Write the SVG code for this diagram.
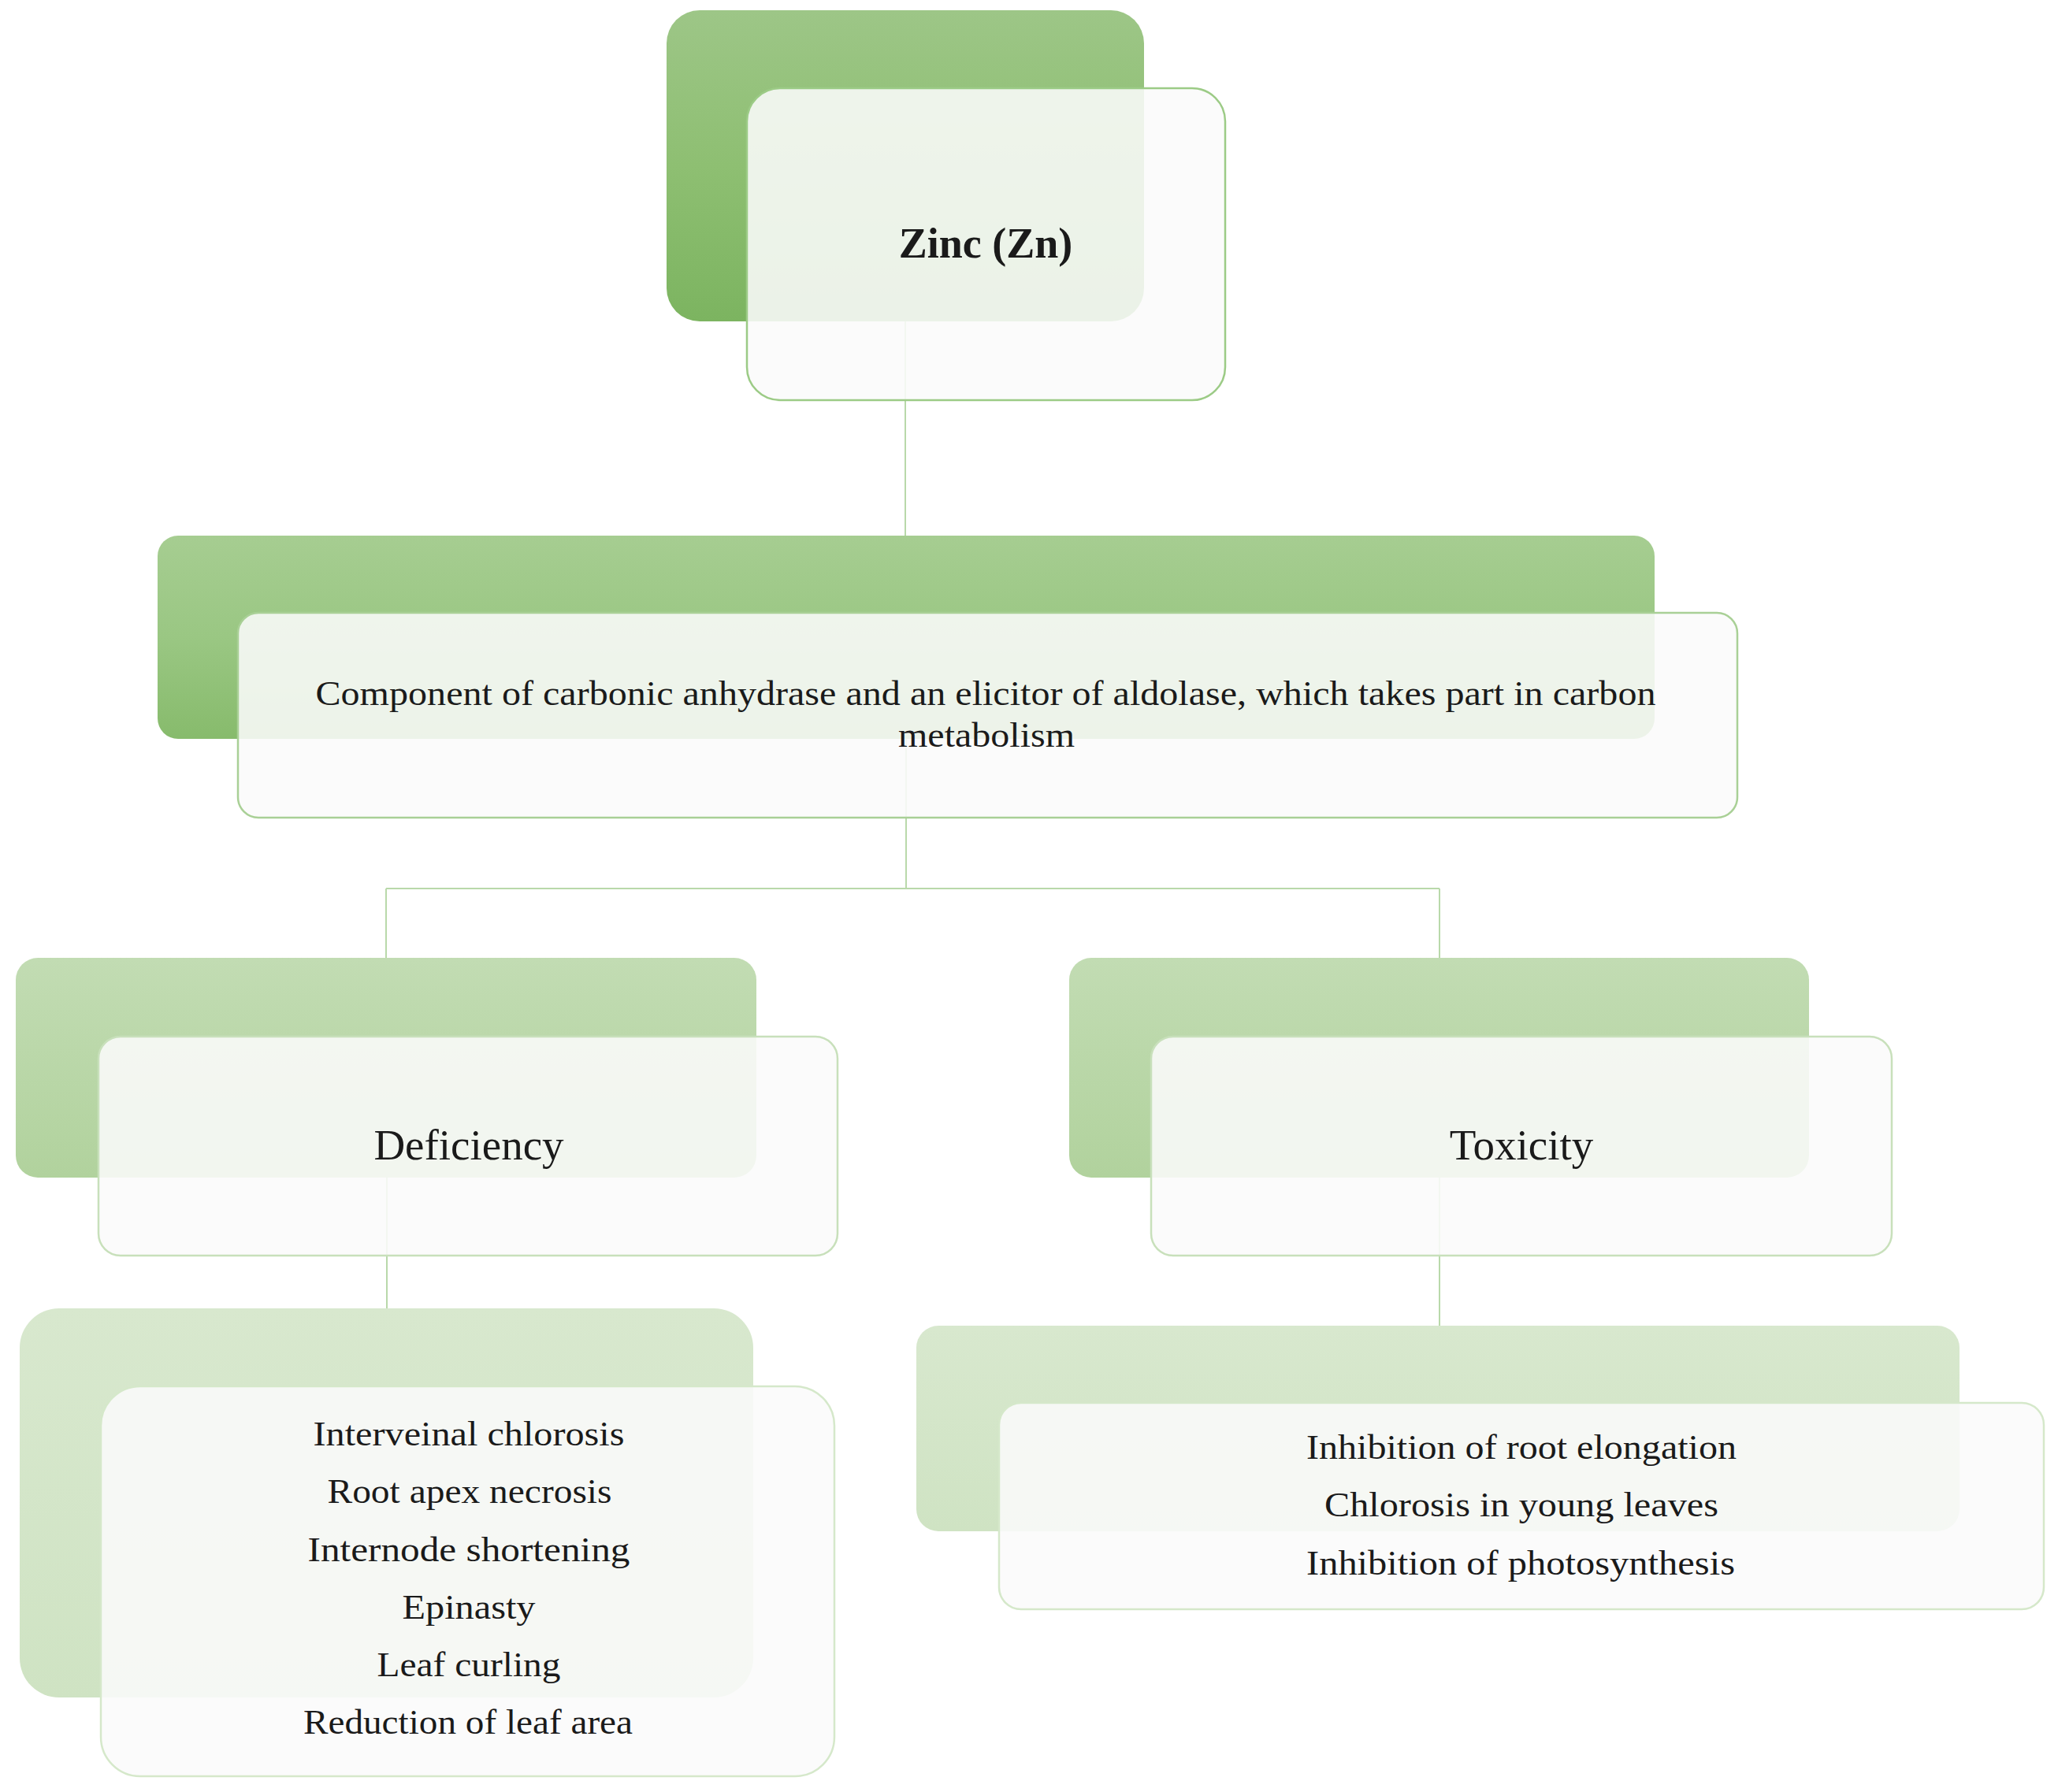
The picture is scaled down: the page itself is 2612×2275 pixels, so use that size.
<svg xmlns="http://www.w3.org/2000/svg" width="2612" height="2275" viewBox="0 0 2612 2275">
  <defs>
    <linearGradient id="g1" x1="0" y1="0" x2="0" y2="1">
      <stop offset="0" stop-color="#9dc687"/>
      <stop offset="0.5" stop-color="#8ebf72"/>
      <stop offset="1" stop-color="#7cb460"/>
    </linearGradient>
    <linearGradient id="g2" x1="0" y1="0" x2="0" y2="1">
      <stop offset="0" stop-color="#a6cd91"/>
      <stop offset="0.5" stop-color="#9ac783"/>
      <stop offset="1" stop-color="#87bb6c"/>
    </linearGradient>
    <linearGradient id="g3" x1="0" y1="0" x2="0" y2="1">
      <stop offset="0" stop-color="#c2dcb3"/>
      <stop offset="1" stop-color="#b1d29d"/>
    </linearGradient>
    <linearGradient id="g4" x1="0" y1="0" x2="0" y2="1">
      <stop offset="0" stop-color="#d8e8ce"/>
      <stop offset="1" stop-color="#cfe3c3"/>
    </linearGradient>
    <style>
      .front { fill: #fafafa; fill-opacity: 0.88; stroke-width: 2.5; }
      .f1 { stroke: #9ccb86; }
      .f2 { stroke: #a9d096; }
      .f3 { stroke: #c8e0bb; }
      .f4 { stroke: #d5e8ca; }
      .conn { fill: none; stroke: #b9d9aa; stroke-width: 2; }
      .t { font-family: "Liberation Serif", "Times New Roman", serif; fill: #1a1a1a; text-anchor: middle; }
      .title { font-size: 55px; }
      .zinc { font-size: 54px; font-weight: bold; }
      .body { font-size: 45px; }
    </style>
  </defs>
  <rect width="2612" height="2275" fill="#ffffff"/>

  <g id="connectors">
    <path class="conn" d="M1149,240 V680"/>
    <path class="conn" d="M1150,860 V1128"/>
    <path class="conn" d="M490,1128 H1827"/>
    <path class="conn" d="M490,1128 V1216"/>
    <path class="conn" d="M1827,1128 V1216"/>
    <path class="conn" d="M491,1400 V1661"/>
    <path class="conn" d="M1827,1400 V1683"/>
  </g>

  <g id="node-zinc">
    <rect x="846" y="13" width="606" height="395" rx="42" fill="url(#g1)"/>
    <rect class="front f1" x="948" y="112" width="607" height="396" rx="42"/>
    <text class="t zinc" x="1251" y="327">Zinc (Zn)</text>
  </g>

  <g id="node-function">
    <rect x="200" y="680" width="1900" height="258" rx="26" fill="url(#g2)"/>
    <rect class="front f2" x="302" y="778" width="1903" height="260" rx="26"/>
    <text class="t body" x="1251" y="895" textLength="1701" lengthAdjust="spacingAndGlyphs">Component of carbonic anhydrase and an elicitor of aldolase, which takes part in carbon</text>
    <text class="t body" x="1252" y="948" textLength="224" lengthAdjust="spacingAndGlyphs">metabolism</text>
  </g>

  <g id="node-deficiency">
    <rect x="20" y="1216" width="940" height="279" rx="28" fill="url(#g3)"/>
    <rect class="front f3" x="125" y="1316" width="938" height="278" rx="28"/>
    <text class="t title" x="595" y="1472">Deficiency</text>
  </g>

  <g id="node-toxicity">
    <rect x="1357" y="1216" width="939" height="279" rx="28" fill="url(#g3)"/>
    <rect class="front f3" x="1461" y="1316" width="940" height="278" rx="28"/>
    <text class="t title" x="1931" y="1472">Toxicity</text>
  </g>

  <g id="node-deficiency-symptoms">
    <rect x="25" y="1661" width="931" height="494" rx="50" fill="url(#g4)"/>
    <rect class="front f4" x="128" y="1760" width="931" height="495" rx="50"/>
    <text class="t body" x="595" y="1835" textLength="395" lengthAdjust="spacingAndGlyphs">Interveinal chlorosis</text>
    <text class="t body" x="596" y="1908" textLength="361" lengthAdjust="spacingAndGlyphs">Root apex necrosis</text>
    <text class="t body" x="595" y="1982" textLength="409" lengthAdjust="spacingAndGlyphs">Internode shortening</text>
    <text class="t body" x="595" y="2055" textLength="169" lengthAdjust="spacingAndGlyphs">Epinasty</text>
    <text class="t body" x="595" y="2128" textLength="233" lengthAdjust="spacingAndGlyphs">Leaf curling</text>
    <text class="t body" x="594" y="2201" textLength="418" lengthAdjust="spacingAndGlyphs">Reduction of leaf area</text>
  </g>

  <g id="node-toxicity-symptoms">
    <rect x="1163" y="1683" width="1324" height="261" rx="28" fill="url(#g4)"/>
    <rect class="front f4" x="1268" y="1781" width="1326" height="262" rx="28"/>
    <text class="t body" x="1931" y="1852" textLength="546" lengthAdjust="spacingAndGlyphs">Inhibition of root elongation</text>
    <text class="t body" x="1931" y="1925" textLength="500" lengthAdjust="spacingAndGlyphs">Chlorosis in young leaves</text>
    <text class="t body" x="1930" y="1999" textLength="544" lengthAdjust="spacingAndGlyphs">Inhibition of photosynthesis</text>
  </g>
</svg>
